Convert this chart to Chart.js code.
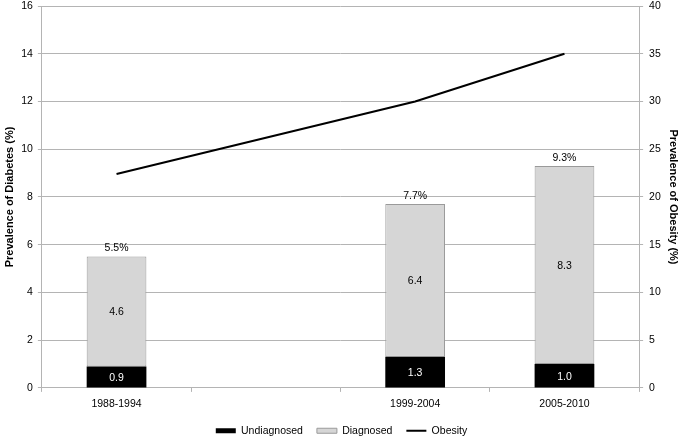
<!DOCTYPE html>
<html>
<head>
<meta charset="utf-8">
<script src="https://cdn.jsdelivr.net/npm/chart.js@4"></script>
<style>
  html, body { margin: 0; padding: 0; background: #fff; }
  #wrap { width: 680px; height: 438px; }
</style>
</head>
<body>
<div id="wrap"><canvas id="diabetesChart"></canvas></div>
<script>
// Data (second slot is an empty spacer category)
const periods = ['1988-1994', '', '1999-2004', '2005-2010'];
const undiagnosed = [0.9, null, 1.3, 1.0];
const diagnosed = [4.6, null, 6.4, 8.3];
const totals = [5.5, null, 7.7, 9.3];
const obesity = [22.4, null, 30.0, 35.0];

const FONT = "'Liberation Sans', Arial, sans-serif";
const gridGray = '#b4b4b4';

// draws segment values inside bars and totals above
const barLabels = {
    id: 'barLabels',
    afterDatasetsDraw(chart) {
        const ctx = chart.ctx;
        ctx.save();
        ctx.font = '10.5px ' + FONT;
        ctx.textAlign = 'center';
        [0, 1].forEach(di => {
            const meta = chart.getDatasetMeta(di);
            const vals = chart.data.datasets[di].data;
            meta.data.forEach((bar, i) => {
                if (vals[i] == null) return;
                const mid = (bar.y + bar.base) / 2;
                ctx.fillStyle = di === 0 ? '#fff' : '#000';
                ctx.textBaseline = 'middle';
                ctx.fillText(vals[i].toFixed(1), bar.x, mid + 1);
                if (di === 1 && totals[i] != null) {
                    ctx.fillStyle = '#000';
                    ctx.textBaseline = 'bottom';
                    ctx.fillText(totals[i].toFixed(1) + '%', bar.x, bar.y - 3);
                }
            });
        });
        ctx.restore();
    }
};

// y axes: keep only half a label of room at top/bottom
function trimPadding(scale) {
    scale.paddingTop = 6;
    scale.paddingBottom = 6;
}

new Chart(document.getElementById('diabetesChart'), {
    type: 'bar',
    data: {
        labels: periods,
        datasets: [
            {
                label: 'Undiagnosed',
                data: undiagnosed,
                backgroundColor: '#000',
                borderColor: '#000',
                borderWidth: 0,
                barPercentage: 0.4,
                categoryPercentage: 1,
                yAxisID: 'y'
            },
            {
                label: 'Diagnosed',
                data: diagnosed,
                backgroundColor: '#d6d6d6',
                borderColor: '#9a9a9a',
                borderWidth: 1,
                borderSkipped: false,
                barPercentage: 0.4,
                categoryPercentage: 1,
                yAxisID: 'y'
            },
            {
                type: 'line',
                label: 'Obesity',
                data: obesity,
                borderColor: '#000',
                backgroundColor: '#000',
                borderWidth: 2,
                pointRadius: 0,
                tension: 0,
                spanGaps: true,
                yAxisID: 'y1'
            }
        ]
    },
    options: {
        responsive: true,
        maintainAspectRatio: false,
        animation: false,
        layout: { padding: { left: 3, right: 0, top: 0, bottom: -8 } },
        plugins: {
            tooltip: { enabled: false },
            legend: {
                position: 'bottom',
                labels: {
                    color: '#000',
                    font: { family: FONT, size: 10.5 },
                    boxWidth: 20,
                    boxHeight: 5,
                    usePointStyle: true,
                    pointStyleWidth: 20,
                    padding: 14,
                    generateLabels(chart) {
                        const items = Chart.defaults.plugins.legend.labels.generateLabels(chart);
                        return items.map(it => {
                            if (it.datasetIndex === 2) {
                                it.pointStyle = 'line';
                                it.lineWidth = 2;
                                it.strokeStyle = '#000';
                            } else {
                                it.pointStyle = 'rect';
                                it.lineWidth = it.datasetIndex === 1 ? 1 : 0;
                            }
                            return it;
                        });
                    }
                }
            }
        },
        scales: {
            x: {
                stacked: true,
                border: { color: gridGray },
                grid: { drawOnChartArea: false, color: gridGray, tickLength: 4, offset: true },
                ticks: { color: '#000', font: { family: FONT, size: 10.5 }, padding: 6, maxRotation: 0 },
                afterFit(scale) { scale.height -= 5; }
            },
            y: {
                stacked: true,
                min: 0,
                max: 16,
                border: { color: gridGray },
                grid: { color: gridGray, tickLength: 4 },
                ticks: { stepSize: 2, color: '#000', font: { family: FONT, size: 10.5 }, padding: 5 },
                title: {
                    display: true,
                    text: 'Prevalence of Diabetes (%)',
                    color: '#000',
                    font: { family: FONT, size: 11, weight: 'bold' },
                    padding: { top: 0, bottom: 0 }
                },
                afterFit: trimPadding
            },
            y1: {
                position: 'right',
                min: 0,
                max: 40,
                border: { color: gridGray },
                grid: { drawOnChartArea: false, color: gridGray, tickLength: 4 },
                ticks: { stepSize: 5, color: '#000', font: { family: FONT, size: 10.5 }, padding: 6 },
                title: {
                    display: true,
                    text: 'Prevalence of Obesity (%)',
                    color: '#000',
                    font: { family: FONT, size: 11, weight: 'bold' },
                    padding: { top: 0, bottom: 0 }
                },
                afterFit: trimPadding
            }
        }
    },
    plugins: [barLabels]
});
</script>
</body>
</html>
